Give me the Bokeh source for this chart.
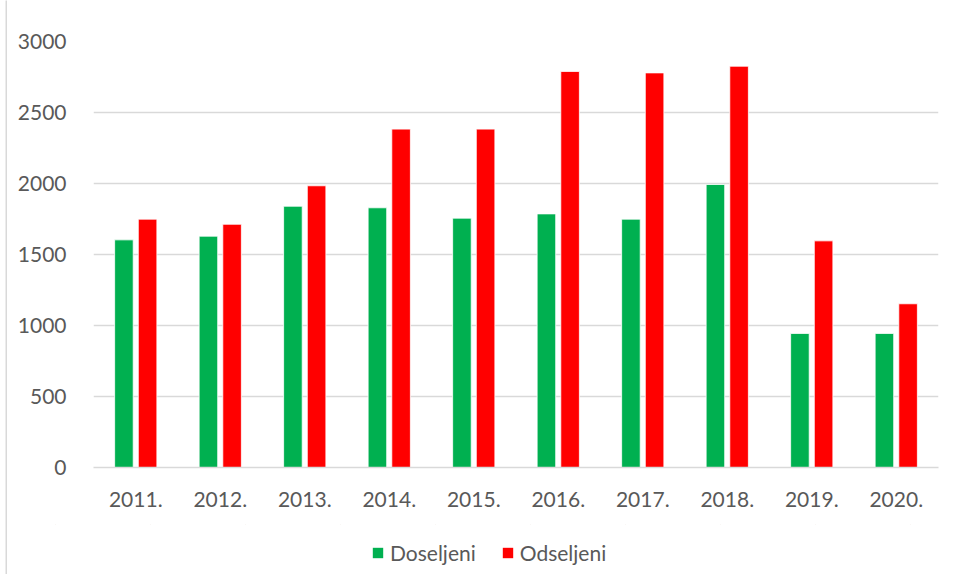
from bokeh.plotting import figure
from bokeh.models import (ColumnDataSource, FactorRange, Range1d, Legend, LegendItem,
                          SingleIntervalTicker, Spacer)
from bokeh.layouts import row, column
from bokeh.transform import dodge
from bokeh.embed import file_html
from bokeh.resources import INLINE

years = ["2011.", "2012.", "2013.", "2014.", "2015.", "2016.", "2017.", "2018.", "2019.", "2020."]
doseljeni = [1603, 1629, 1840, 1829, 1756, 1786, 1749, 1993, 944, 944]
odseljeni = [1749, 1713, 1984, 2383, 2383, 2789, 2779, 2826, 1596, 1153]
series = ["Doseljeni", "Odseljeni"]
colors = ["#00B050", "#FF0000"]

src = ColumnDataSource(dict(year=years, dos=doseljeni, ods=odseljeni))

FONT = "Lato"
GRAY = "#595959"
BORDER = "#d9d9d9"


def bare(w, h, fill, **kw):
    s = figure(width=w, height=h, output_backend="svg", toolbar_location=None, title=None,
               x_axis_location=None, y_axis_location=None, frame_align=False,
               min_border=0, min_border_left=0, min_border_right=0,
               min_border_top=0, min_border_bottom=0, **kw)
    s.outline_line_color = None
    s.background_fill_color = fill
    s.border_fill_color = fill
    s.grid.visible = False
    return s


p = figure(x_range=FactorRange(*years, range_padding=0), y_range=Range1d(0, 3000),
           width=951, height=510, output_backend="svg", toolbar_location=None,
           frame_align=False,
           min_border_left=86, min_border_right=20, min_border_top=27, min_border_bottom=57)
p.outline_line_color = None

g = p.vbar(x=dodge("year", -0.14, range=p.x_range), top="dos", width=0.22, source=src,
           fill_color=colors[0], line_color="white", line_width=0.8)
r = p.vbar(x=dodge("year", 0.14, range=p.x_range), top="ods", width=0.22, source=src,
           fill_color=colors[1], line_color="white", line_width=0.8)

p.yaxis.ticker = SingleIntervalTicker(interval=500)
p.ygrid.grid_line_color = BORDER
p.ygrid.grid_line_width = 1.3
p.xgrid.grid_line_color = None

for ax in (p.xaxis[0], p.yaxis[0]):
    ax.major_label_text_font = FONT
    ax.major_label_text_font_size = "21px"
    ax.major_label_text_color = GRAY
    ax.major_tick_line_color = None
    ax.minor_tick_line_color = None
p.yaxis.axis_line_color = None
p.xaxis.axis_line_color = BORDER
p.xaxis.axis_line_width = 1.3
p.yaxis.major_label_standoff = 21
p.xaxis.major_label_standoff = 18

# legend panel: same data, bars kept out of its (hidden) view
lp = bare(951, 50, "white", x_range=FactorRange(*years), y_range=Range1d(-2, -1))
lg = lp.vbar(x="year", top="dos", width=0.001, source=src, fill_color=colors[0], line_color=None)
lr = lp.vbar(x="year", top="ods", width=0.001, source=src, fill_color=colors[1], line_color=None)

legend = Legend(items=[LegendItem(label=series[0], renderers=[lg]),
                       LegendItem(label=series[1], renderers=[lr])],
                orientation="horizontal", location=(364, 9))
legend.label_text_font = FONT
legend.label_text_font_size = "21px"
legend.label_text_color = GRAY
legend.glyph_width = 13
legend.glyph_height = 13
legend.label_standoff = 6
legend.spacing = 25
legend.padding = 0
legend.margin = 0
legend.border_line_color = None
legend.background_fill_alpha = 0
lp.add_layout(legend, "center")

layout = row(
    Spacer(width=5, height=574),
    bare(2, 574, BORDER),
    column(Spacer(width=951, height=12), bare(951, 2, BORDER), p, lp, spacing=0),
    spacing=0,
)

open("out.html", "w").write(file_html(layout, INLINE))
